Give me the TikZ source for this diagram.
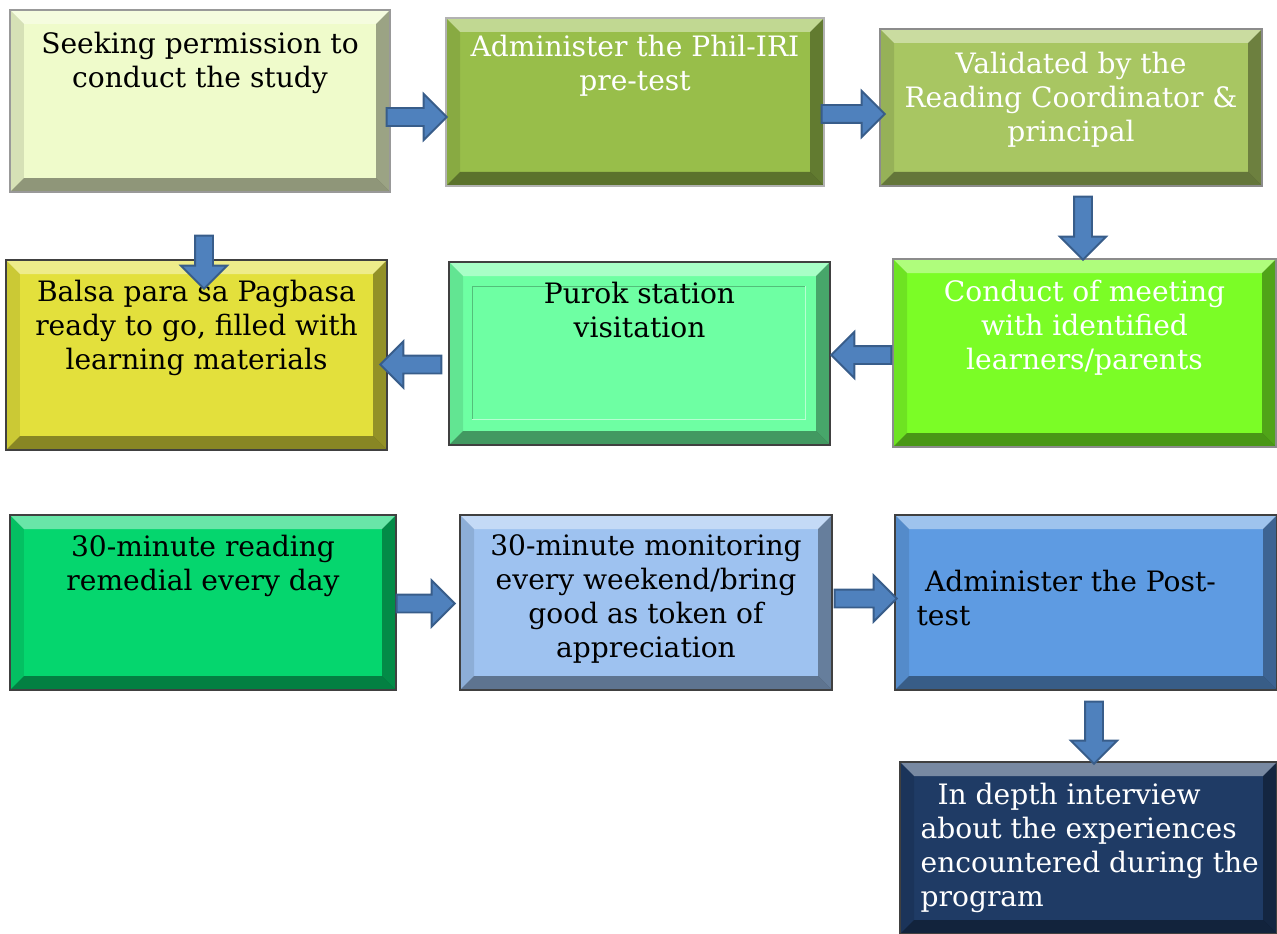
\documentclass[tikz,border=0pt]{standalone}
\usepackage{fontspec}
\setmainfont{DejaVu Serif}
\usepackage{tikz}
\usetikzlibrary{positioning,shapes.arrows}

\definecolor{arrowfill}{HTML}{4F81BD}
\definecolor{arrowline}{HTML}{385D8A}
\definecolor{seekfill}{HTML}{EFFBCB}
\definecolor{pretestfill}{HTML}{98BE4A}
\definecolor{validfill}{HTML}{A8C662}
\definecolor{meetfill}{HTML}{7BFD26}
\definecolor{purokfill}{HTML}{6EFFA3}
\definecolor{balsafill}{HTML}{E3E03C}
\definecolor{remedfill}{HTML}{05D66E}
\definecolor{monitfill}{HTML}{9EC2F0}
\definecolor{postfill}{HTML}{5E9BE2}
\definecolor{intervfill}{HTML}{1F3B65}

\def\bevw{0.28cm}

\tikzset{
  bevel/.style={path picture={
      \path (path picture bounding box.south west) coordinate (bl)
            (path picture bounding box.north east) coordinate (tr);
      \path (bl|-tr) coordinate (tl) (tr|-bl) coordinate (br);
      \fill[white,opacity=.4] (tl) -- (tr) -- ([shift={(-\bevw,-\bevw)}]tr) -- ([shift={(\bevw,-\bevw)}]tl) -- cycle;
      \fill[black,opacity=.35] (tr) -- (br) -- ([shift={(-\bevw,\bevw)}]br) -- ([shift={(-\bevw,-\bevw)}]tr) -- cycle;
      \fill[black,opacity=.4] (br) -- (bl) -- ([shift={(\bevw,\bevw)}]bl) -- ([shift={(-\bevw,\bevw)}]br) -- cycle;
      \fill[black,opacity=.1] (bl) -- (tl) -- ([shift={(\bevw,-\bevw)}]tl) -- ([shift={(\bevw,\bevw)}]bl) -- cycle;
  }},
  box/.style={rectangle, draw=black!75, line width=0.8pt, inner sep=0pt, bevel},
  txt/.style={inner sep=0pt, align=center, font=\fontsize{16}{19.4}\selectfont},
  wtxt/.style={txt, text=white},
  barrow/.style={single arrow, draw=arrowline, fill=arrowfill, line width=1.1pt,
    inner xsep=0pt, inner ysep=0.16cm, single arrow head extend=0.28cm, minimum height=1.2cm}
}

\begin{document}
\begin{tikzpicture}
	\useasboundingbox (0,0) rectangle (25.54,-18.68);

	\node[box, fill=seekfill, draw=black!40, minimum width=7.60cm, minimum height=3.64cm] (seek) at (4.00,-2.02) {};
	\node[box, fill=pretestfill, draw=black!30, minimum width=7.56cm, minimum height=3.36cm] (pretest) at (12.70,-2.04) {};
	\node[box, fill=validfill, draw=black!45, minimum width=7.64cm, minimum height=3.14cm] (valid) at (21.42,-2.15) {};
	\node[box, fill=meetfill, draw=black!45, minimum width=7.66cm, minimum height=3.76cm] (meet) at (21.69,-7.06) {};
	\node[box, fill=purokfill, minimum width=7.62cm, minimum height=3.66cm] (purok) at (12.79,-7.07) {};
	\node[box, fill=balsafill, minimum width=7.62cm, minimum height=3.80cm] (balsa) at (3.93,-7.10) {};
	\node[box, fill=remedfill, minimum width=7.72cm, minimum height=3.50cm] (remed) at (4.06,-12.05) {};
	\node[box, fill=monitfill, minimum width=7.44cm, minimum height=3.50cm] (monit) at (12.92,-12.05) {};
	\node[box, fill=postfill, minimum width=7.64cm, minimum height=3.50cm] (post) at (21.72,-12.05) {};
	\node[box, fill=intervfill, minimum width=7.54cm, minimum height=3.44cm] (interv) at (21.77,-16.96) {};

	\coordinate (pin-nw) at ([shift={(0.48cm,-0.50cm)}]purok.north west);
	\coordinate (pin-se) at ([shift={(-0.50cm,0.52cm)}]purok.south east);
	\draw[purokfill!75!black, line width=0.7pt] (pin-nw|-pin-se) -- (pin-nw) -- (pin-se|-pin-nw);
	\draw[purokfill!50!white, line width=0.7pt] (pin-se|-pin-nw) -- (pin-se) -- (pin-nw|-pin-se);

	\node[txt, below=0.44cm of seek.north] (seek-t) {Seeking permission to\\conduct the study};
	\node[wtxt, below=0.34cm of pretest.north] (pretest-t) {Administer the Phil-IRI\\pre-test};
	\node[wtxt, below=0.46cm of valid.north] (valid-t) {Validated by the\\Reading Coordinator \&\\principal};
	\node[wtxt, below=0.42cm of meet.north] (meet-t) {Conduct of meeting\\with identified\\learners/parents};
	\node[txt, below=0.40cm of purok.north] (purok-t) {Purok station\\visitation};
	\node[txt, below=0.40cm of balsa.north] (balsa-t) {Balsa para sa Pagbasa\\ready to go, filled with\\learning materials};
	\node[txt, below=0.40cm of remed.north] (remed-t) {30-minute reading\\remedial every day};
	\node[txt, below=0.40cm of monit.north] (monit-t) {30-minute monitoring\\every weekend/bring\\good as token of\\appreciation};
	\node[txt, align=left, anchor=north west] (post-t) at ([shift={(0.44cm,-1.10cm)}]post.north west) {\hspace*{0.3em}Administer the Post-\\test};
	\node[wtxt, align=left, anchor=north west] (interv-t) at ([shift={(0.42cm,-0.42cm)}]interv.north west) {\hspace*{0.6em}In depth interview\\about the experiences\\encountered during the\\program};

	\node[barrow, anchor=tail] (a12) at ([shift={(-0.10cm,-0.32cm)}]seek.east) {};
	\node[barrow, anchor=tail, minimum height=1.26cm] (a23) at ([shift={(-0.08cm,-0.24cm)}]pretest.east) {};
	\node[barrow, anchor=tail, rotate=-90, minimum height=1.26cm] (a34) at ([shift={(0.24cm,-0.18cm)}]valid.south) {};
	\node[barrow, anchor=tail, rotate=180] (a45) at ([shift={(0cm,-0.04cm)}]meet.west) {};
	\node[barrow, anchor=tail, rotate=180, minimum height=1.22cm] (a56) at ([shift={(-0.12cm,-0.22cm)}]purok.west) {};
	\node[barrow, anchor=tail, rotate=-90, minimum height=1.06cm] (a16) at ([shift={(0.08cm,-0.84cm)}]seek.south) {};
	\node[barrow, anchor=tail, minimum height=1.16cm] (a78) at ([shift={(-0.02cm,-0.02cm)}]remed.east) {};
	\node[barrow, anchor=tail, minimum height=1.24cm] (a89) at ([shift={(0.02cm,0.08cm)}]monit.east) {};
	\node[barrow, anchor=tail, rotate=-90, minimum height=1.24cm] (a910) at ([shift={(0.16cm,-0.20cm)}]post.south) {};
\end{tikzpicture}
\end{document}
